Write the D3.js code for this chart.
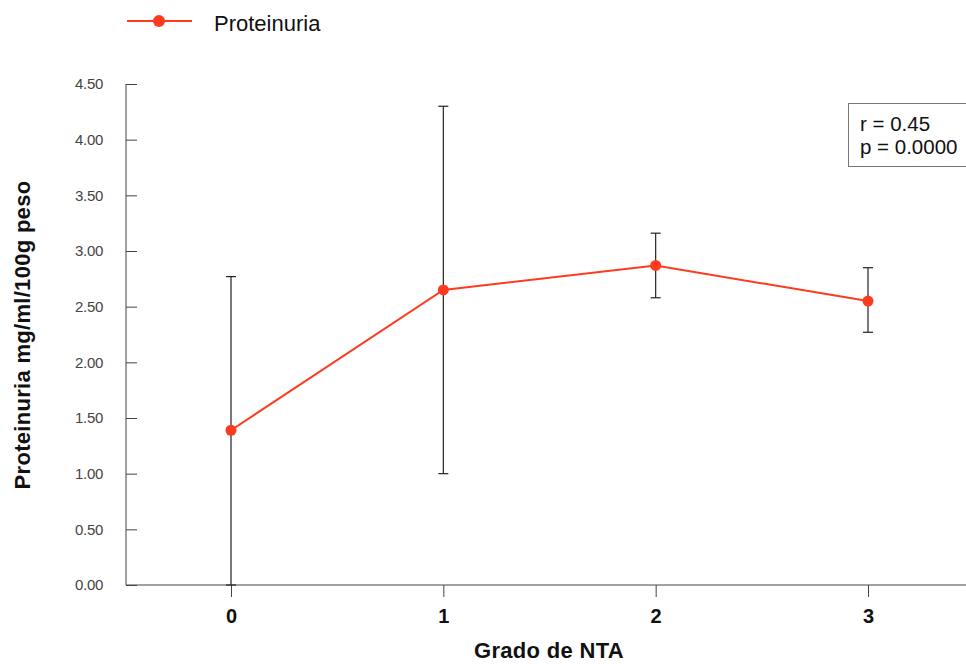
<!DOCTYPE html>
<html>
<head>
<meta charset="utf-8">
<script src="https://cdn.jsdelivr.net/npm/d3@7"></script>
<style>
  body { margin: 0; background: #fff; }
  text { font-family: "Liberation Sans", Arial, sans-serif; }
</style>
</head>
<body>
<div id="chart"></div>
<script>
// Data
var grades = ["0", "1", "2", "3"];
var means = [1.39, 2.65, 2.87, 2.55];
var upper = [2.77, 4.30, 3.16, 2.85];
var lower = [0.00, 1.00, 2.58, 2.27];
var yTicks = [0, 0.5, 1, 1.5, 2, 2.5, 3, 3.5, 4, 4.5];
var seriesName = "Proteinuria";
var statsLines = ["r = 0.45", "p = 0.0000"];

var width = 966, height = 664;
var margin = {top: 84, right: 0, bottom: 79, left: 126};
var innerW = width - margin.left - margin.right;
var innerH = height - margin.top - margin.bottom;
var red = "#ff3b1f";
var axisColor = "#444";

var svg = d3.select("#chart")
    .append("svg")
    .attr("width", width)
    .attr("height", height);

var g = svg.append("g")
    .attr("transform", `translate(${margin.left},${margin.top})`);

// Scales
var xScale = d3.scalePoint().domain(grades).range([105, 742]);
var yScale = d3.scaleLinear().domain([0, 4.5]).range([innerH, 0]);

// Y axis (ticks pointing inward)
var yAxis = g.append("g")
    .call(d3.axisRight(yScale).tickValues(yTicks).tickSize(11).tickFormat(d3.format(".2f")));
yAxis.select(".domain").attr("stroke", axisColor).attr("d", `M0,0V${innerH}`);
yAxis.selectAll(".tick line").attr("stroke", axisColor);
yAxis.selectAll(".tick text")
    .attr("x", -23)
    .attr("text-anchor", "end")
    .attr("fill", "#444")
    .style("font-size", "15px")
    .style("letter-spacing", "-0.3px");

// X axis
var xAxis = g.append("g")
    .attr("transform", `translate(0,${innerH})`)
    .call(d3.axisBottom(xScale).tickSize(12));
xAxis.select(".domain").attr("stroke", axisColor).attr("d", `M0,0H${innerW}`);
xAxis.selectAll(".tick line").attr("stroke", axisColor);
xAxis.selectAll(".tick text")
    .attr("y", 24)
    .attr("fill", "#111")
    .style("font-size", "20px")
    .style("font-weight", "bold");

// Axis titles
svg.append("text")
    .attr("x", 549)
    .attr("y", 658)
    .attr("text-anchor", "middle")
    .style("font-size", "22px")
    .style("font-weight", "bold")
    .style("letter-spacing", "0.3px")
    .attr("fill", "#111")
    .text("Grado de NTA");

svg.append("text")
    .attr("transform", "translate(30,335) rotate(-90)")
    .attr("text-anchor", "middle")
    .style("font-size", "22px")
    .style("font-weight", "bold")
    .style("letter-spacing", "0.3px")
    .attr("fill", "#111")
    .text("Proteinuria mg/ml/100g peso");

// Error bars
var pts = grades.map((c, i) => ({grade: c, mean: means[i], hi: upper[i], lo: lower[i]}));

var eb = g.selectAll(".err")
    .data(pts)
    .join("g")
    .attr("class", "err")
    .attr("stroke", "#222")
    .attr("stroke-width", 1.2);
eb.append("line")
    .attr("x1", d => xScale(d.grade)).attr("x2", d => xScale(d.grade))
    .attr("y1", d => yScale(d.hi)).attr("y2", d => yScale(d.lo));
eb.append("line")
    .attr("x1", d => xScale(d.grade) - 5).attr("x2", d => xScale(d.grade) + 5)
    .attr("y1", d => yScale(d.hi)).attr("y2", d => yScale(d.hi));
eb.append("line")
    .attr("x1", d => xScale(d.grade) - 5).attr("x2", d => xScale(d.grade) + 5)
    .attr("y1", d => yScale(d.lo)).attr("y2", d => yScale(d.lo));

// Line + points
var lineGenerator = d3.line().x(d => xScale(d.grade)).y(d => yScale(d.mean));
g.append("path")
    .datum(pts)
    .attr("fill", "none")
    .attr("stroke", red)
    .attr("stroke-width", 2)
    .attr("d", lineGenerator);

g.selectAll(".dot")
    .data(pts)
    .join("circle")
    .attr("class", "dot")
    .attr("cx", d => xScale(d.grade))
    .attr("cy", d => yScale(d.mean))
    .attr("r", 5.5)
    .attr("fill", red);

// Legend
var legend = svg.append("g").attr("transform", "translate(127,21)");
legend.append("line").attr("x1", 0).attr("x2", 65).attr("y1", 0).attr("y2", 0)
    .attr("stroke", red).attr("stroke-width", 2);
legend.append("circle").attr("cx", 32).attr("cy", 0).attr("r", 6).attr("fill", red);
legend.append("text")
    .attr("x", 87).attr("y", 2).attr("dy", "0.35em")
    .style("font-size", "22px")
    .attr("fill", "#111")
    .text(seriesName);

// Stats box
var box = svg.append("g").attr("transform", "translate(848,103)");
box.append("rect")
    .attr("x", 0.5).attr("y", 0.5)
    .attr("width", 120).attr("height", 63)
    .attr("fill", "#fff")
    .attr("stroke", "#777");
box.selectAll("text.stat")
    .data(statsLines)
    .join("text")
    .attr("class", "stat")
    .attr("x", 12)
    .attr("y", (d, i) => 28 + i * 23)
    .style("font-size", "20.5px")
    .attr("fill", "#111")
    .text(d => d);
</script>
</body>
</html>
